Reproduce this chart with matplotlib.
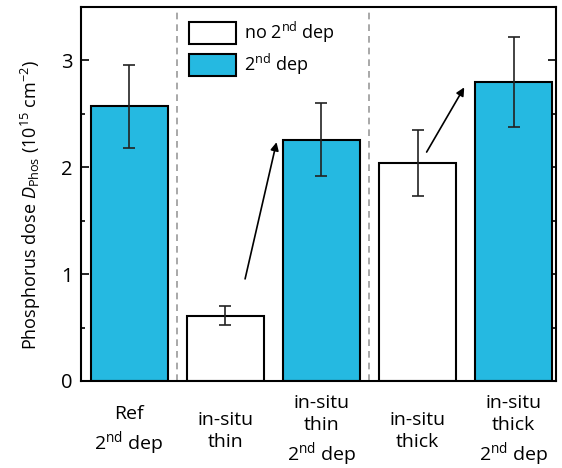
import matplotlib
matplotlib.use("Agg")
import matplotlib.pyplot as plt
from matplotlib.patches import Patch
import numpy as np

plt.rcParams['font.family'] = ['Open Sans', 'DejaVu Sans']
plt.rcParams['mathtext.fontset'] = 'custom'
plt.rcParams['mathtext.rm'] = 'Open Sans'
plt.rcParams['mathtext.it'] = 'Open Sans:italic'

# data
labels = ["Ref\n2$^{\\rm nd}$ dep", "in-situ\nthin", "in-situ\nthin\n2$^{\\rm nd}$ dep",
          "in-situ\nthick", "in-situ\nthick\n2$^{\\rm nd}$ dep"]
dose = [2.57, 0.61, 2.26, 2.04, 2.80]
dose_err = [0.39, 0.09, 0.34, 0.31, 0.42]
second_dep = [True, False, True, False, True]

cyan = '#25B9E1'

fig = plt.figure(figsize=(5.62, 4.68), dpi=100)
ax = fig.add_axes([81 / 562, 87 / 468, 475 / 562, 374 / 468])

x = np.arange(len(dose))
colors = [cyan if s else 'white' for s in second_dep]
ax.bar(x, dose, width=0.8, color=colors, edgecolor='black', linewidth=1.5, zorder=2)
ax.errorbar(x, dose, yerr=dose_err, fmt='none', ecolor='#222222', elinewidth=1.2,
            capsize=4, capthick=1.2, zorder=3)

# group separators
for xs in [0.5, 2.5]:
    ax.axvline(xs, color='#999999', linestyle=(0, (4, 3)), linewidth=1.2, zorder=1)

# arrows from without to with 2nd dep
ax.annotate('', xy=(1.54, 2.26), xytext=(1.2, 0.93),
            arrowprops=dict(arrowstyle='-|>', color='black', lw=1.2, mutation_scale=12))
ax.annotate('', xy=(3.5, 2.77), xytext=(3.08, 2.12),
            arrowprops=dict(arrowstyle='-|>', color='black', lw=1.2, mutation_scale=12))

ax.set_xlim(-0.5, 4.44)
ax.set_ylim(0, 3.5)
ax.set_yticks([0, 1, 2, 3])
ax.set_yticks([0.5, 1.5, 2.5, 3.5], minor=True)
ax.tick_params(axis='y', which='both', direction='in', right=True, labelsize=14.5, width=1.2)
ax.tick_params(axis='y', which='major', length=6, pad=6)
ax.tick_params(axis='y', which='minor', length=3)
ax.set_xticks(x)
ax.set_xticklabels(labels, fontsize=14, va='center', linespacing=1.3)
ax.tick_params(axis='x', length=0, pad=36)
for s in ax.spines.values():
    s.set_linewidth(1.5)

ax.set_ylabel("Phosphorus dose $D_{\\rm Phos}$ (10$^{15}$ cm$^{-2}$)", fontsize=13)
ax.yaxis.set_label_coords(-0.08, 0.47)

handles = [Patch(facecolor='white', edgecolor='black', linewidth=1.5, label="no 2$^{\\rm nd}$ dep"),
           Patch(facecolor=cyan, edgecolor='black', linewidth=1.5, label="2$^{\\rm nd}$ dep")]
ax.legend(handles=handles, loc='upper left', bbox_to_anchor=(0.205, 0.995), frameon=False,
          fontsize=13, handlelength=2.6, handleheight=1.5, handletextpad=0.45,
          labelspacing=0.4, borderaxespad=0.2)

fig.savefig('out.png', dpi=100)
